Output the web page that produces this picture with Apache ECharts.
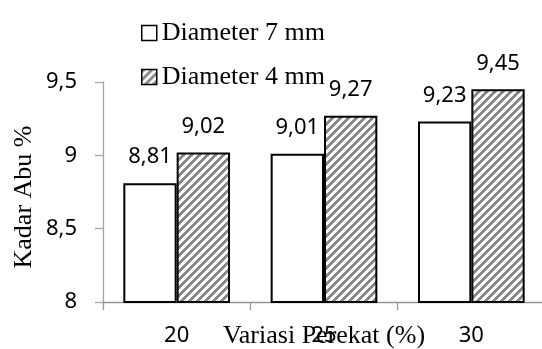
<!DOCTYPE html>
<html>
<head>
<meta charset="utf-8">
<script src="https://cdn.jsdelivr.net/npm/echarts@6/dist/echarts.min.js"></script>
<style>
  html, body { margin: 0; padding: 0; background: #fff; }
  #chart { width: 542px; height: 349px; }
</style>
</head>
<body>
<div id="chart"></div>
<script>
// Ash content (%) by binder variation, for two pellet diameters
const categories = ['20', '25', '30'];
const seriesNames = ['Diameter 7 mm', 'Diameter 4 mm'];
const diameter7 = [8.81, 9.01, 9.23];
const diameter4 = [9.02, 9.27, 9.45];
const yTickValues = [8, 8.5, 9, 9.5];
const yTickLabels = ['8', '8,5', '9', '9,5'];

// Wide upward diagonal hatch tile
function hatchTile() {
  const c = document.createElement('canvas');
  c.width = 8; c.height = 8;
  const ctx = c.getContext('2d');
  ctx.fillStyle = '#ffffff';
  ctx.fillRect(0, 0, 8, 8);
  ctx.fillStyle = '#888888';
  for (let y = 0; y < 8; y++) {
    for (let x = 0; x < 8; x++) {
      if ((x + y) % 8 < 4) ctx.fillRect(x, y, 1, 1);
    }
  }
  return c;
}

const comma = v => String(v).replace('.', ',');
const labelFont = { fontFamily: '"Noto Sans", sans-serif', fontSize: 22, color: '#000', lineHeight: 22 };
const serifFont = { fontFamily: '"Liberation Serif", "Times New Roman", serif', fontSize: 26, color: '#000', lineHeight: 26 };

const chart = echarts.init(document.getElementById('chart'), null, { renderer: 'canvas' });

chart.setOption({
  animation: false,
  backgroundColor: '#ffffff',
  grid: { left: 103, right: -3, top: 82, bottom: 47, containLabel: false, outerBoundsMode: 'none' },
  legend: {
    orient: 'vertical',
    left: 136,
    top: 15,
    icon: 'rect',
    itemWidth: 15,
    itemHeight: 15,
    itemGap: 18,
    textStyle: serifFont,
    itemStyle: { borderColor: '#000', borderWidth: 1.5 },
    data: seriesNames
  },
  xAxis: {
    type: 'category',
    data: categories,
    name: 'Variasi Perekat (%)',
    nameLocation: 'middle',
    nameGap: 21,
    nameMoveOverlap: false,
    nameTextStyle: serifFont,
    axisLine: { lineStyle: { color: '#969696', width: 1.3 } },
    axisTick: { show: true, length: 8, lineStyle: { color: '#969696', width: 1.3 } },
    axisLabel: Object.assign({ margin: 23 }, labelFont),
    splitLine: { show: false }
  },
  yAxis: {
    type: 'value',
    min: 8,
    max: 9.5,
    interval: 0.5,
    name: 'Kadar Abu %',
    nameLocation: 'middle',
    nameRotate: 90,
    nameGap: 66,
    nameMoveOverlap: false,
    nameTextStyle: Object.assign({ padding: [0, 10, 0, 0] }, serifFont),
    axisLine: { show: true, lineStyle: { color: '#a6a6a6', width: 1.3 } },
    axisTick: { show: true, length: 8, lineStyle: { color: '#a6a6a6', width: 1.3 } },
    axisLabel: Object.assign({
      margin: 26,
      formatter: v => {
        const i = yTickValues.indexOf(v);
        return i >= 0 ? yTickLabels[i] : comma(v);
      }
    }, labelFont),
    splitLine: { show: false }
  },
  series: [
    {
      name: seriesNames[0],
      type: 'bar',
      data: diameter7,
      barGap: '0%',
      barCategoryGap: '27.6%',
      itemStyle: { color: '#ffffff', borderColor: '#000000', borderWidth: 2 },
      label: Object.assign({ show: true, position: 'top', distance: 15, formatter: p => comma(p.value) }, labelFont)
    },
    {
      name: seriesNames[1],
      type: 'bar',
      data: diameter4,
      barGap: '0%',
      barCategoryGap: '27.6%',
      itemStyle: { color: { image: hatchTile(), repeat: 'repeat' }, borderColor: '#000000', borderWidth: 2 },
      label: Object.assign({ show: true, position: 'top', distance: 15, formatter: p => comma(p.value) }, labelFont)
    }
  ]
});
</script>
</body>
</html>
